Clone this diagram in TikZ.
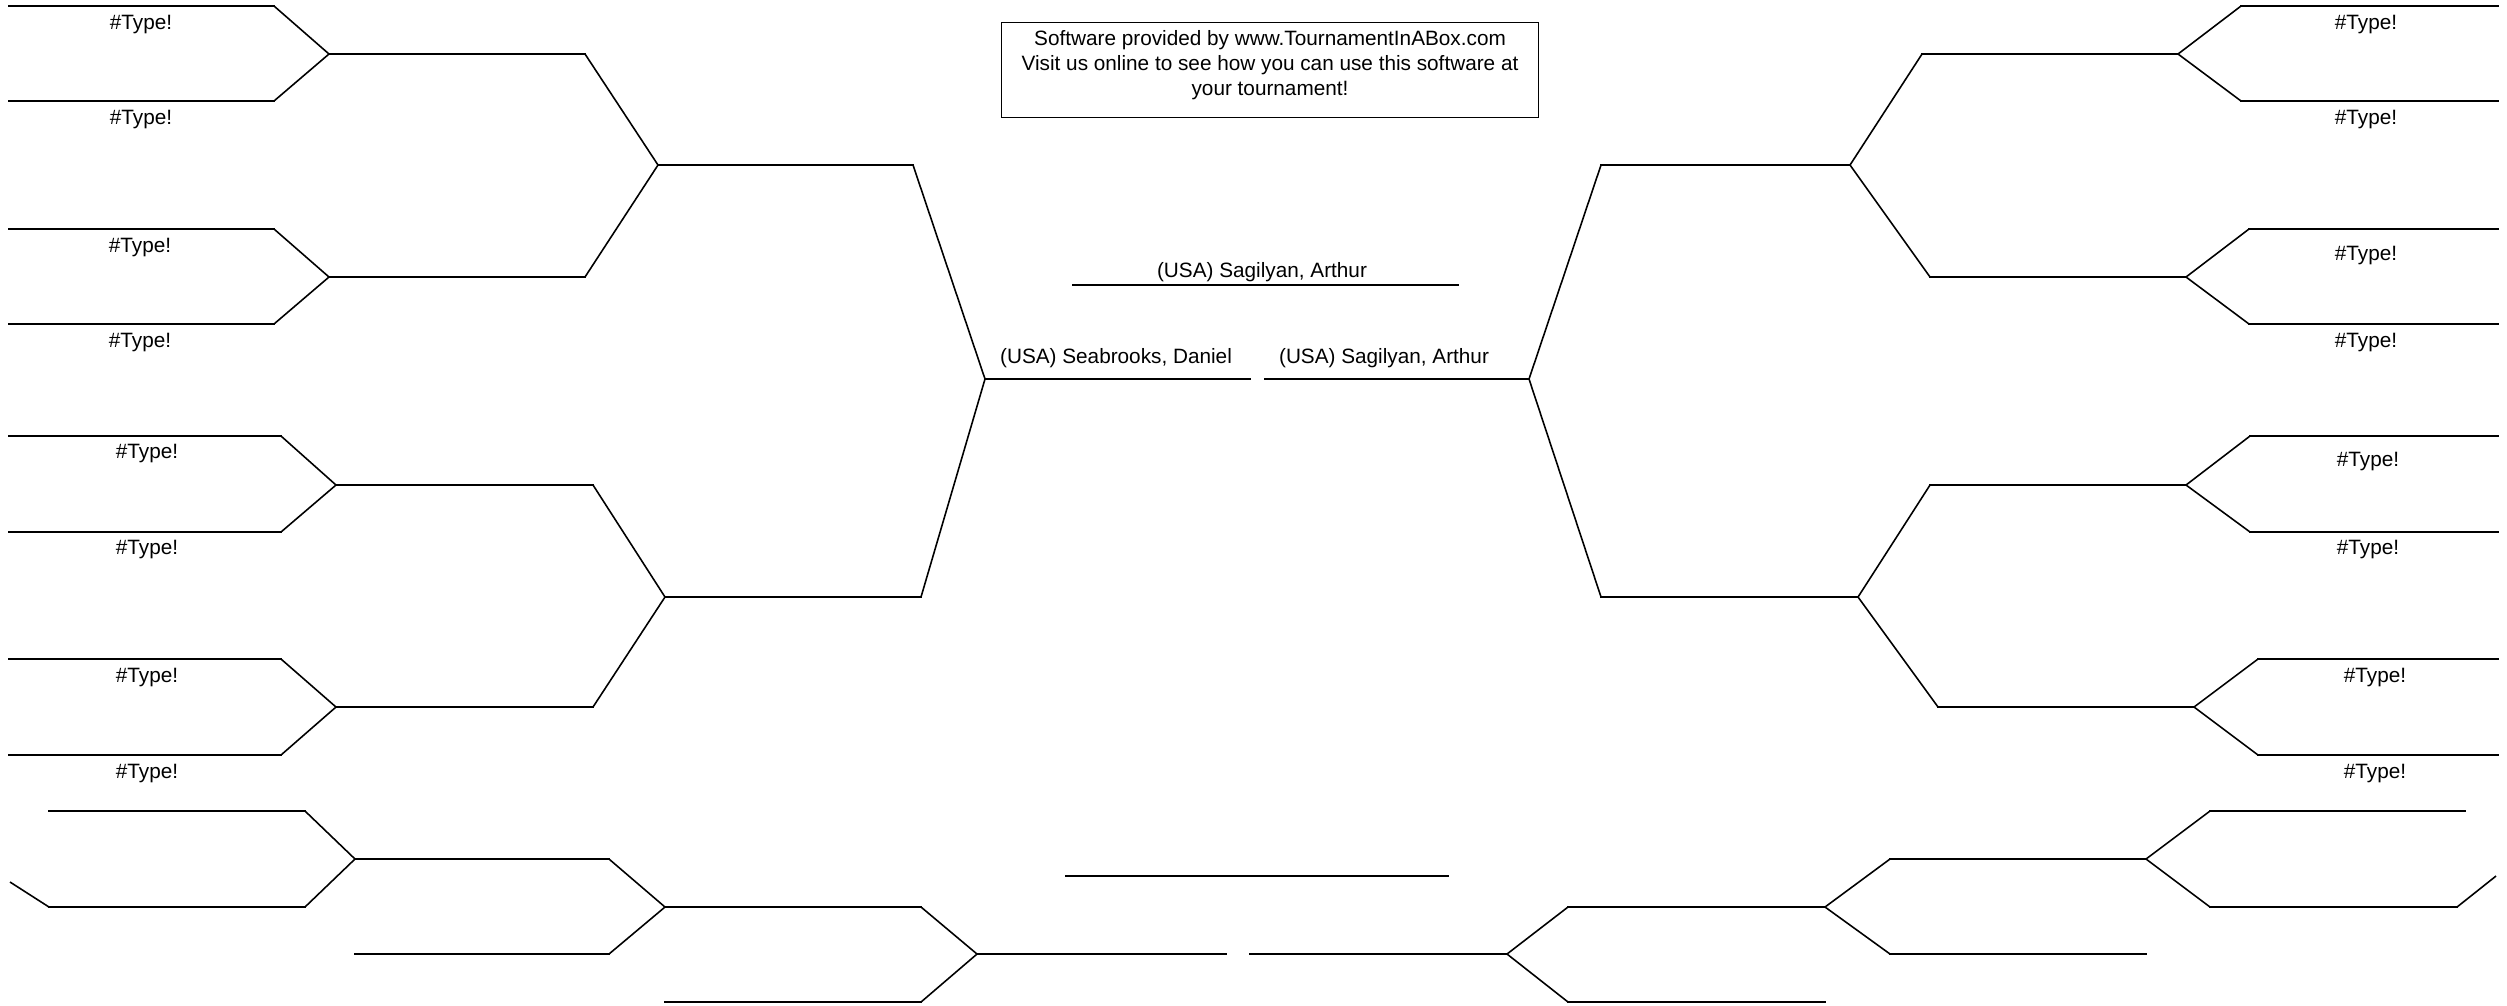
\documentclass[tikz,border=0pt]{standalone}
\usepackage{fontspec}
\setmainfont{Liberation Sans}
\usepackage{tikz}
\usetikzlibrary{positioning}

\begin{document}
\begin{tikzpicture}[
  x=0.01cm, y=-0.01cm,
  font=\fontsize{5.9}{7.1}\selectfont,
  slot/.style={line width=0.74pt, line cap=rect},
  link/.style={line width=0.45pt},
  entry/.style={anchor=base, inner sep=0pt},
  player/.style={anchor=base, inner sep=0pt},
  logo/.style={draw, line width=0.3pt, inner sep=0pt, anchor=north}
]
\useasboundingbox (0,0) rectangle (2507,1005);

% --- left half of the main draw ---
\draw[slot] (9,6) -- (274,6) (9,101) -- (274,101) (9,229) -- (274,229) (9,324) -- (274,324)
            (9,436) -- (281,436) (9,532) -- (281,532) (9,659) -- (281,659) (9,755) -- (281,755);
\draw[slot] (329,54) -- (585,54) (329,277) -- (585,277) (336,485) -- (593,485) (336,707) -- (593,707);
\draw[slot] (658,165) -- (913,165) (665,597) -- (921,597);
\draw[slot] (985,379) -- (1250,379);
\draw[link] (274,6) -- (329,54) -- (274,101);
\draw[link] (274,229) -- (329,277) -- (274,324);
\draw[link] (281,436) -- (336,485) -- (281,532);
\draw[link] (281,659) -- (336,707) -- (281,755);
\draw[link] (585,54) -- (658,165) -- (585,277);
\draw[link] (593,485) -- (665,597) -- (593,707);
\draw[link] (913,165) -- (985,379) -- (921,597);

\node[entry] (seedL1) at (141,29)  {\#Type!};
\node[entry] (seedL2) at (141,124) {\#Type!};
\node[entry] (seedL3) at (140,252) {\#Type!};
\node[entry] (seedL4) at (140,347) {\#Type!};
\node[entry] (seedL5) at (147,458) {\#Type!};
\node[entry] (seedL6) at (147,554) {\#Type!};
\node[entry] (seedL7) at (147,682) {\#Type!};
\node[entry] (seedL8) at (147,778) {\#Type!};

% --- right half of the main draw ---
\draw[slot] (2241,6) -- (2498,6) (2241,101) -- (2498,101) (2249,229) -- (2498,229) (2249,324) -- (2498,324)
            (2250,436) -- (2498,436) (2250,532) -- (2498,532) (2258,659) -- (2498,659) (2258,755) -- (2498,755);
\draw[slot] (1922,54) -- (2178,54) (1930,277) -- (2186,277) (1930,485) -- (2186,485) (1938,707) -- (2194,707);
\draw[slot] (1601,165) -- (1850,165) (1601,597) -- (1858,597);
\draw[slot] (1265,379) -- (1529,379);
\draw[link] (2241,6) -- (2178,54) -- (2241,101);
\draw[link] (2249,229) -- (2186,277) -- (2249,324);
\draw[link] (2250,436) -- (2186,485) -- (2250,532);
\draw[link] (2258,659) -- (2194,707) -- (2258,755);
\draw[link] (1922,54) -- (1850,165) -- (1930,277);
\draw[link] (1930,485) -- (1858,597) -- (1938,707);
\draw[link] (1601,165) -- (1529,379) -- (1601,597);

\node[entry] (seedR1) at (2366,29)  {\#Type!};
\node[entry] (seedR2) at (2366,124) {\#Type!};
\node[entry] (seedR3) at (2366,260) {\#Type!};
\node[entry] (seedR4) at (2366,347) {\#Type!};
\node[entry] (seedR5) at (2368,466) {\#Type!};
\node[entry] (seedR6) at (2368,554) {\#Type!};
\node[entry] (seedR7) at (2375,682) {\#Type!};
\node[entry] (seedR8) at (2375,778) {\#Type!};

% --- semifinal and winner ---
\node[player] (semiL) at (1116,363) {(USA) Seabrooks, Daniel};
\node[player] (semiR) at (1384,363) {(USA) Sagilyan, Arthur};
\draw[slot] (1073,285) -- (1458,285);
\node[player] (champ) at (1262,277) {(USA) Sagilyan, Arthur};

% --- banner ---
\node[logo] (banner) at (1270,22)
  {\parbox[t][0.95cm][t]{5.36cm}{\centering\vspace*{0.08cm}%
   Software provided by www.TournamentInABox.com\\Visit us online to see how you can use this software at\\your tournament!}};

% --- consolation draw, left ---
\draw[slot] (49,811) -- (305,811) (49,907) -- (305,907);
\draw[slot] (355,859) -- (609,859) (355,954) -- (609,954);
\draw[slot] (665,907) -- (921,907) (665,1002) -- (921,1002);
\draw[slot] (977,954) -- (1226,954);
\draw[link] (10,882) -- (49,907);
\draw[link] (305,811) -- (355,859) -- (305,907);
\draw[link] (609,859) -- (665,907) -- (609,954);
\draw[link] (921,907) -- (977,954) -- (921,1002);
\draw[slot] (1066,876) -- (1448,876);

% --- consolation draw, right ---
\draw[slot] (1250,954) -- (1507,954);
\draw[slot] (1568,907) -- (1825,907) (1568,1002) -- (1825,1002);
\draw[slot] (1890,859) -- (2146,859) (1890,954) -- (2146,954);
\draw[slot] (2210,811) -- (2465,811) (2210,907) -- (2457,907);
\draw[link] (1568,907) -- (1507,954) -- (1568,1002);
\draw[link] (1890,859) -- (1825,907) -- (1890,954);
\draw[link] (2210,811) -- (2146,859) -- (2210,907);
\draw[link] (2457,907) -- (2496,876);
\end{tikzpicture}
\end{document}
